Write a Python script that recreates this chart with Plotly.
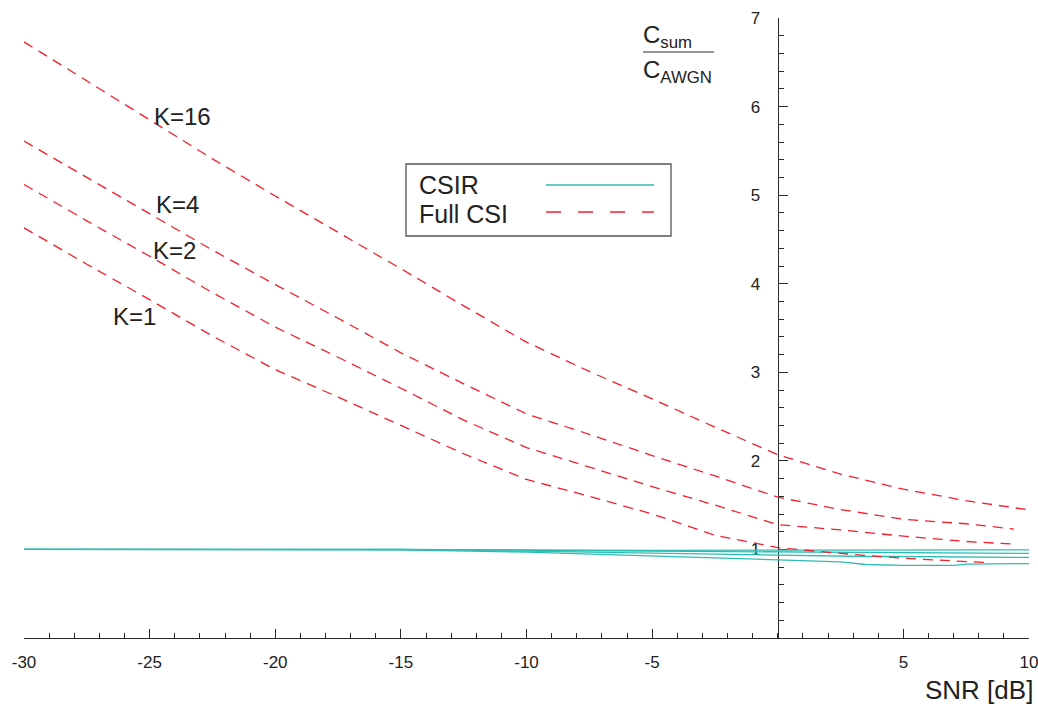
import plotly.graph_objects as go

# ---------------- data ----------------
snr_full = [-30, -27.5, -25, -22.5, -20, -17.5, -15, -12.5, -10, -7.5, -5, -2.5, 0, 2.5, 5, 7.5]

snr_k16 = snr_full + [9.9]
full_k16 = [6.73, 6.29, 5.85, 5.41, 4.99, 4.58, 4.17, 3.75, 3.34, 3.01, 2.70, 2.38, 2.07, 1.85, 1.68, 1.55, 1.45]

snr_k4 = snr_full + [9.4]
full_k4 = [5.61, 5.20, 4.79, 4.38, 3.99, 3.61, 3.22, 2.87, 2.53, 2.30, 2.06, 1.83, 1.59, 1.45, 1.34, 1.29, 1.23]

snr_k2 = snr_full + [9.4]
full_k2 = [5.12, 4.71, 4.31, 3.90, 3.51, 3.17, 2.82, 2.46, 2.15, 1.93, 1.71, 1.50, 1.28, 1.22, 1.15, 1.09, 1.06]

snr_k1 = snr_full + [8.4]
full_k1 = [4.63, 4.22, 3.82, 3.41, 3.03, 2.72, 2.40, 2.08, 1.79, 1.60, 1.40, 1.16, 1.02, 0.955, 0.90, 0.86, 0.85]

snr_csir = [-30, -20, -15, -10, -5, 0, 2.5, 3.5, 5, 7, 7.5, 10]
csir_a = [1.0, 1.0, 1.0, 0.995, 0.99, 0.99, 0.99, 0.99, 0.99, 0.99, 0.995, 0.995]
csir_b = [1.0, 1.0, 1.0, 0.99, 0.98, 0.97, 0.965, 0.96, 0.96, 0.96, 0.96, 0.955]
csir_c = [1.0, 1.0, 1.0, 0.98, 0.955, 0.93, 0.925, 0.92, 0.92, 0.915, 0.915, 0.91]
csir_d = [1.0, 1.0, 0.995, 0.97, 0.925, 0.875, 0.86, 0.83, 0.82, 0.82, 0.835, 0.84]

x_tickvals = [-30, -25, -20, -15, -10, -5, 5, 10]
x_ticktext = ["-30", "-25", "-20", "-15", "-10", "-5", "5", "10"]
y_tickvals = [1, 2, 3, 4, 5, 6, 7]
y_ticktext = ["1", "2", "3", "4", "5", "6", "7"]

k_labels = ["K=16", "K=4", "K=2", "K=1"]
k_label_x = [-23.7, -23.9, -24.0, -25.6]
k_label_y = [5.89, 4.90, 4.37, 3.63]

# ---------------- style ----------------
W, H = 1038, 704
ML, MR, MT, MB = 24, 9, 18, 66
CYAN = "#2EBDB3"
RED = "#F41E2C"
AX = "#2a2a2a"
FONT = "Liberation Sans, Arial, sans-serif"
TXT = "#222222"

pw = W - ML - MR
ph = H - MT - MB


def px2x(px):
    return (px - ML) / pw


def py2y(py):
    return (H - MB - py) / ph


fig = go.Figure()

for ys in [csir_a, csir_b, csir_c, csir_d]:
    fig.add_trace(go.Scatter(x=snr_csir, y=ys, mode="lines",
                             line=dict(color=CYAN, width=1.3),
                             showlegend=False, hoverinfo="skip"))

for xs, ys in [(snr_k16, full_k16), (snr_k4, full_k4), (snr_k2, full_k2), (snr_k1, full_k1)]:
    fig.add_trace(go.Scatter(x=xs, y=ys, mode="lines",
                             line=dict(color=RED, width=1.3, dash="10px,7px"),
                             showlegend=False, hoverinfo="skip"))

# K labels
for t, xx, yy in zip(k_labels, k_label_x, k_label_y):
    fig.add_annotation(x=xx, y=yy, xref="x", yref="y", text=t, showarrow=False,
                       font=dict(size=24, color=TXT, family=FONT))

# manual legend (text left, sample right)
fig.add_shape(type="rect", xref="paper", yref="paper",
              x0=px2x(406), x1=px2x(671), y0=py2y(236), y1=py2y(164),
              line=dict(color="#555555", width=1.3), fillcolor="white", layer="above")
fig.add_annotation(x=px2x(417), y=py2y(185), xref="paper", yref="paper", text="CSIR",
                   xanchor="left", yanchor="middle", showarrow=False,
                   font=dict(size=25, color=TXT, family=FONT))
fig.add_annotation(x=px2x(417), y=py2y(214), xref="paper", yref="paper", text="Full CSI",
                   xanchor="left", yanchor="middle", showarrow=False,
                   font=dict(size=25, color=TXT, family=FONT))
fig.add_shape(type="line", xref="paper", yref="paper",
              x0=px2x(546), x1=px2x(654), y0=py2y(185), y1=py2y(185),
              line=dict(color=CYAN, width=1.3), layer="above")
fig.add_shape(type="line", xref="paper", yref="paper",
              x0=px2x(546), x1=px2x(654), y0=py2y(212), y1=py2y(212),
              line=dict(color=RED, width=1.4, dash="15px,17px"), layer="above")

# y-axis title as fraction
fig.add_annotation(x=px2x(641), y=py2y(36), xref="paper", yref="paper",
                   text="C<sub>sum</sub>", xanchor="left", yanchor="middle", showarrow=False,
                   font=dict(size=24, color=TXT, family=FONT))
fig.add_shape(type="line", xref="paper", yref="paper",
              x0=px2x(643), x1=px2x(714), y0=py2y(52), y1=py2y(52),
              line=dict(color=AX, width=1.2))
fig.add_annotation(x=px2x(641), y=py2y(72), xref="paper", yref="paper",
                   text="C<sub>AWGN</sub>", xanchor="left", yanchor="middle", showarrow=False,
                   font=dict(size=24, color=TXT, family=FONT))

# x-axis title
fig.add_annotation(x=px2x(1035), y=py2y(690), xref="paper", yref="paper",
                   text="SNR [dB]", xanchor="right", yanchor="middle", showarrow=False,
                   font=dict(size=26, color=TXT, family=FONT))

fig.update_layout(
    width=W, height=H,
    margin=dict(l=ML, r=MR, t=MT, b=MB, pad=0, autoexpand=False),
    plot_bgcolor="white", paper_bgcolor="white",
    showlegend=False,
    font=dict(family=FONT, size=17, color=TXT),
    xaxis=dict(range=[-30, 10], showgrid=False, zeroline=False,
               showline=True, linecolor=AX, linewidth=1.3,
               tickmode="array", tickvals=x_tickvals, ticktext=x_ticktext,
               ticks="inside", ticklen=9, tickwidth=1.2, tickcolor=AX,
               ticklabelstandoff=8, ticklabeloverflow="allow",
               tickfont=dict(size=17, color=TXT, family=FONT),
               minor=dict(tickmode="linear", tick0=0, dtick=1, ticks="inside",
                          ticklen=5, tickwidth=1.1, tickcolor=AX, showgrid=False),
               layer="below traces", fixedrange=True),
    yaxis=dict(range=[0, 7], showgrid=False, zeroline=False,
               anchor="free", position=0.75, side="left",
               showline=True, linecolor=AX, linewidth=1.3,
               tickmode="array", tickvals=y_tickvals, ticktext=y_ticktext,
               ticks="inside", ticklen=9, tickwidth=1.2, tickcolor=AX,
               ticklabelstandoff=14, ticklabeloverflow="allow",
               tickfont=dict(size=17, color=TXT, family=FONT),
               minor=dict(tickmode="linear", tick0=0, dtick=0.2, ticks="inside",
                          ticklen=5, tickwidth=1.1, tickcolor=AX, showgrid=False),
               layer="below traces", fixedrange=True),
)

fig.write_html("out.html", config={"displayModeBar": False},
               post_script="document.body.style.margin='0';document.body.style.overflow='hidden';")
